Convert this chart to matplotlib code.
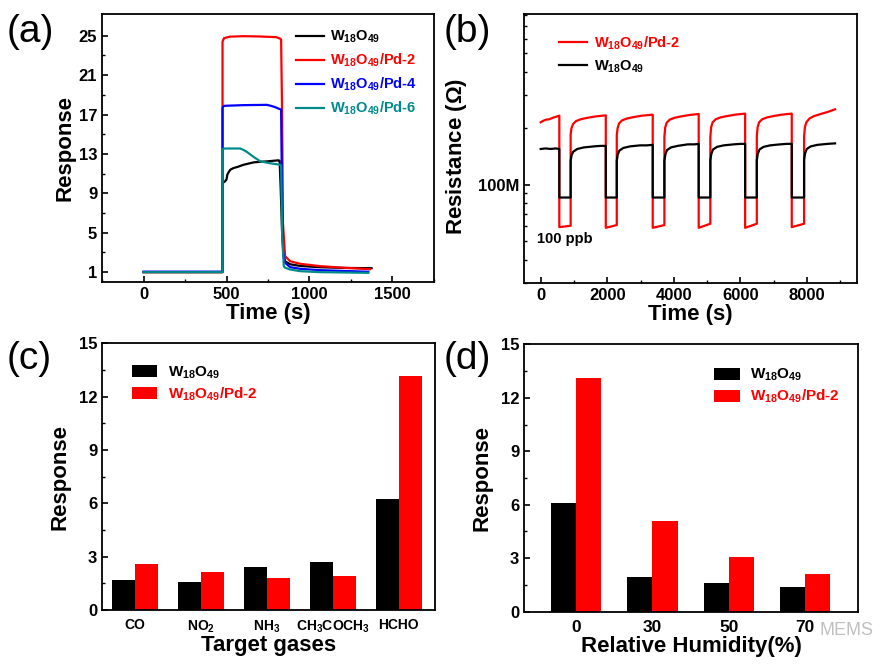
import matplotlib
matplotlib.use('Agg')
import numpy as np
from matplotlib import pyplot as plt
from matplotlib.ticker import FixedLocator, MultipleLocator, NullFormatter, LogLocator


plt.rcParams['font.family'] = ['Liberation Sans', 'DejaVu Sans']
plt.rcParams['font.weight'] = 'bold'
plt.rcParams['mathtext.fontset'] = 'custom'
plt.rcParams['mathtext.rm'] = 'Liberation Sans:bold'
plt.rcParams['mathtext.it'] = 'Liberation Sans:bold'
plt.rcParams['mathtext.bf'] = 'Liberation Sans:bold'
plt.rcParams['axes.linewidth'] = 1.3

W = r'W$_{18}$O$_{49}$'
WPD = r'W$_{18}$O$_{49}$/Pd-'

# (a) dynamic response curves
black_a_t = [0, 476, 476, 490, 500, 505, 515, 523, 543, 570, 603, 663, 703, 743, 780, 813, 820, 826, 835, 845, 853, 883, 943, 1063, 1203, 1374]
black_a = [1.0, 1.0, 10.05, 10.2, 10.4, 10.9, 11.2, 11.4, 11.57, 11.7, 11.9, 12.14, 12.2, 12.24, 12.3, 12.35, 12.3, 9.7, 5.0, 2.6, 2.11, 1.8, 1.63, 1.5, 1.43, 1.40]
red_a_t = [0, 476, 476, 485, 520, 600, 700, 800, 823, 829, 835, 840, 853, 883, 943, 1063, 1203, 1364]
red_a = [1.0, 1.0, 24.4, 24.75, 24.9, 24.95, 24.92, 24.85, 24.7, 24.6, 17.0, 6.0, 2.62, 2.11, 1.85, 1.61, 1.45, 1.30]
blue_a_t = [0, 476, 476, 485, 600, 743, 763, 793, 813, 829, 835, 841, 853, 883, 943, 1063, 1354]
blue_a = [1.05, 1.05, 17.7, 17.88, 17.95, 17.98, 17.9, 17.75, 17.6, 17.5, 8.0, 2.96, 1.95, 1.51, 1.34, 1.2, 1.04]
teal_a_t = [0, 476, 476, 490, 583, 603, 623, 663, 703, 763, 823, 829, 835, 845, 853, 883, 943, 1063, 1354]
teal_a = [1.0, 1.0, 13.5, 13.55, 13.55, 13.4, 13.2, 12.7, 12.25, 12.05, 11.9, 11.8, 5.0, 1.6, 1.45, 1.27, 1.1, 1.0, 0.93]

# (b) resistance cycles, values in units of 1e8 ohm
red_b_t = [0, 80, 160, 260, 360, 460, 560,
           560, 900, 900, 925, 970, 1060, 1200, 1400, 1650, 1955,
           1955, 2285, 2285, 2310, 2355, 2445, 2585, 2785, 3035, 3365,
           3365, 3715, 3715, 3740, 3785, 3875, 4015, 4215, 4465, 4745,
           4745, 5095, 5095, 5120, 5165, 5255, 5395, 5595, 5845, 6140,
           6140, 6490, 6490, 6515, 6560, 6650, 6790, 6990, 7240, 7540,
           7540, 7910, 7910, 7935, 7980, 8070, 8210, 8410, 8620, 8840]
red_b = [2.15, 2.19, 2.22, 2.23, 2.27, 2.30, 2.33,
         0.595, 0.605, 1.85, 2.00, 2.10, 2.18, 2.23, 2.27, 2.31, 2.34,
         0.59, 0.61, 1.83, 2.00, 2.12, 2.20, 2.25, 2.29, 2.33, 2.36,
         0.59, 0.61, 1.80, 2.02, 2.14, 2.22, 2.27, 2.31, 2.35, 2.38,
         0.59, 0.62, 1.79, 2.03, 2.15, 2.23, 2.28, 2.32, 2.36, 2.39,
         0.59, 0.62, 1.80, 2.03, 2.15, 2.23, 2.28, 2.32, 2.36, 2.39,
         0.595, 0.62, 1.80, 2.03, 2.15, 2.25, 2.32, 2.38, 2.44, 2.52]
black_b_t = [0, 150, 300, 450, 560,
             560, 900, 900, 930, 980, 1100, 1300, 1600, 1800, 1955,
             1955, 2285, 2285, 2315, 2365, 2485, 2685, 2985, 3185, 3365,
             3365, 3715, 3715, 3745, 3795, 3915, 4115, 4415, 4615, 4745,
             4745, 5095, 5095, 5125, 5175, 5295, 5495, 5795, 5995, 6140,
             6140, 6490, 6490, 6520, 6570, 6690, 6890, 7190, 7390, 7540,
             7540, 7910, 7910, 7940, 7990, 8110, 8310, 8610, 8840]
black_b = [1.55, 1.56, 1.55, 1.56, 1.55,
           0.855, 0.855, 1.34, 1.44, 1.50, 1.55, 1.58, 1.60, 1.61, 1.61,
           0.855, 0.855, 1.34, 1.45, 1.52, 1.57, 1.60, 1.62, 1.62, 1.63,
           0.855, 0.855, 1.34, 1.45, 1.53, 1.58, 1.61, 1.64, 1.64, 1.65,
           0.855, 0.855, 1.35, 1.46, 1.54, 1.59, 1.62, 1.64, 1.65, 1.65,
           0.855, 0.855, 1.35, 1.46, 1.54, 1.59, 1.62, 1.64, 1.65, 1.65,
           0.855, 0.855, 1.36, 1.47, 1.55, 1.60, 1.63, 1.65, 1.66]

# (c) selectivity
gases = ['CO', r'NO$_2$', r'NH$_3$', r'CH$_3$COCH$_3$', 'HCHO']
gas_w = [1.69, 1.56, 2.40, 2.72, 6.26]
gas_pd = [2.57, 2.12, 1.80, 1.93, 13.16]

# (d) humidity
humidity = ['0', '30', '50', '70']
hum_w = [6.12, 1.96, 1.63, 1.38]
hum_pd = [13.09, 5.09, 3.09, 2.09]


def style(ax):
    ax.tick_params(which='both', direction='in', top=False, right=False, labelsize=12)
    ax.tick_params(which='major', length=4, width=1.2)
    ax.tick_params(which='minor', length=2.5, width=1.0)


fig = plt.figure(figsize=(8.81, 6.64), dpi=100)
ax_a = fig.add_axes([0.1158, 0.5753, 0.3768, 0.4036])
ax_b = fig.add_axes([0.5948, 0.5738, 0.3780, 0.4051])
ax_c = fig.add_axes([0.1158, 0.0813, 0.3780, 0.4017])
ax_d = fig.add_axes([0.5948, 0.0788, 0.3791, 0.4027])

# (a)
ax_a.plot(black_a_t, black_a, color='black', lw=1.6, label=W)
ax_a.plot(red_a_t, red_a, color='#ff0000', lw=1.6, label=WPD + '2')
ax_a.plot(blue_a_t, blue_a, color='#0000ff', lw=1.6, label=WPD + '4')
ax_a.plot(teal_a_t, teal_a, color='#008b8b', lw=1.6, label=WPD + '6')
ax_a.set_xlim(-250, 1750)
ax_a.set_ylim(0, 27.2)
ax_a.xaxis.set_major_locator(FixedLocator([0, 500, 1000, 1500]))
ax_a.xaxis.set_minor_locator(MultipleLocator(250))
ax_a.yaxis.set_major_locator(FixedLocator([1, 5, 9, 13, 17, 21, 25]))
ax_a.yaxis.set_minor_locator(FixedLocator([3, 7, 11, 15, 19, 23]))
style(ax_a)
ax_a.set_xlabel('Time (s)', fontsize=16, fontweight='bold', labelpad=1)
ax_a.set_ylabel('Response', fontsize=16, fontweight='bold', labelpad=2)
leg = ax_a.legend(loc='upper left', bbox_to_anchor=(0.585, 0.945), frameon=False,
                  fontsize=10.5, handlelength=1.9, handletextpad=0.4, labelspacing=0.45,
                  borderpad=0, borderaxespad=0)
for txt, ln in zip(leg.get_texts(), leg.get_lines()):
    txt.set_color(ln.get_color())

# (b)
ax_b.plot(red_b_t, np.array(red_b) * 1e8, color='#ff0000', lw=1.6, label=WPD + '2')
ax_b.plot(black_b_t, np.array(black_b) * 1e8, color='black', lw=1.6, label=W)
ax_b.set_yscale('log')
ax_b.set_xlim(-500, 9500)
ax_b.set_ylim(3.0e7, 8.1e8)
ax_b.xaxis.set_major_locator(FixedLocator([0, 2000, 4000, 6000, 8000]))
ax_b.xaxis.set_minor_locator(MultipleLocator(1000))
ax_b.yaxis.set_major_locator(FixedLocator([1e8]))
ax_b.set_yticklabels(['100M'])
ax_b.yaxis.set_minor_locator(LogLocator(base=10, subs=np.arange(2, 10)))
ax_b.yaxis.set_minor_formatter(NullFormatter())
style(ax_b)
ax_b.set_xlabel('Time (s)', fontsize=16, fontweight='bold', labelpad=1)
ax_b.set_ylabel(r'Resistance ($\Omega$)', fontsize=16, fontweight='bold', labelpad=2)
ax_b.yaxis.set_label_coords(-0.165, 0.47)
ax_b.text(0.04, 0.15, '100 ppb', transform=ax_b.transAxes, fontsize=10.5, fontweight='bold')
leg = ax_b.legend(loc='upper left', bbox_to_anchor=(0.105, 0.925), frameon=False,
                  fontsize=10.5, handlelength=1.9, handletextpad=0.5, labelspacing=0.45,
                  borderpad=0, borderaxespad=0)
for txt, ln in zip(leg.get_texts(), leg.get_lines()):
    txt.set_color(ln.get_color())

# (c)
xc = np.arange(len(gases))
ax_c.bar(xc - 0.175, gas_w, width=0.35, color='black', label=W)
ax_c.bar(xc + 0.175, gas_pd, width=0.35, color='#ff0000', label=WPD + '2')
ax_c.set_xlim(-0.5, 4.55)
ax_c.set_ylim(0, 15)
ax_c.set_xticks(xc)
ax_c.set_xticklabels(gases)
ax_c.yaxis.set_major_locator(MultipleLocator(3))
ax_c.yaxis.set_minor_locator(MultipleLocator(1.5))
style(ax_c)
ax_c.tick_params(axis='x', which='both', length=0, labelsize=10, pad=6)
ax_c.set_xlabel('Target gases', fontsize=16, fontweight='bold', labelpad=0)
ax_c.set_ylabel('Response', fontsize=16, fontweight='bold', labelpad=6)
leg = ax_c.legend(loc='upper left', bbox_to_anchor=(0.09, 0.92), frameon=False,
                  fontsize=11, handlelength=1.65, handleheight=0.85, handletextpad=0.7,
                  labelspacing=0.3, borderpad=0, borderaxespad=0)
for txt, col in zip(leg.get_texts(), ['black', '#ff0000']):
    txt.set_color(col)

# (d)
xd = np.arange(len(humidity))
ax_d.bar(xd - 0.165, hum_w, width=0.33, color='black', label=W)
ax_d.bar(xd + 0.165, hum_pd, width=0.33, color='#ff0000', label=WPD + '2')
ax_d.set_xlim(-0.68, 3.69)
ax_d.set_ylim(0, 15)
ax_d.set_xticks(xd)
ax_d.set_xticklabels(humidity)
ax_d.yaxis.set_major_locator(MultipleLocator(3))
ax_d.yaxis.set_minor_locator(MultipleLocator(1.5))
style(ax_d)
ax_d.tick_params(axis='x', which='both', length=0, labelsize=12.5, pad=6)
ax_d.set_xlabel('Relative Humidity(%)', fontsize=16, fontweight='bold', labelpad=1)
ax_d.set_ylabel('Response', fontsize=16, fontweight='bold', labelpad=6)
leg = ax_d.legend(loc='upper left', bbox_to_anchor=(0.57, 0.915), frameon=False,
                  fontsize=11, handlelength=1.65, handleheight=0.85, handletextpad=0.7,
                  labelspacing=0.3, borderpad=0, borderaxespad=0)
for txt, col in zip(leg.get_texts(), ['black', '#ff0000']):
    txt.set_color(col)

# panel labels
for x, y, s in [(0.008, 0.937, '(a)'), (0.503, 0.937, '(b)'),
                (0.008, 0.445, '(c)'), (0.503, 0.445, '(d)')]:
    fig.text(x, y, s, fontsize=28, fontweight='normal')

# watermark
fig.text(0.93, 0.043, 'MEMS', fontsize=13, fontweight='normal', color='#c0c0c0', zorder=10)

fig.savefig('out.png', dpi=100)
